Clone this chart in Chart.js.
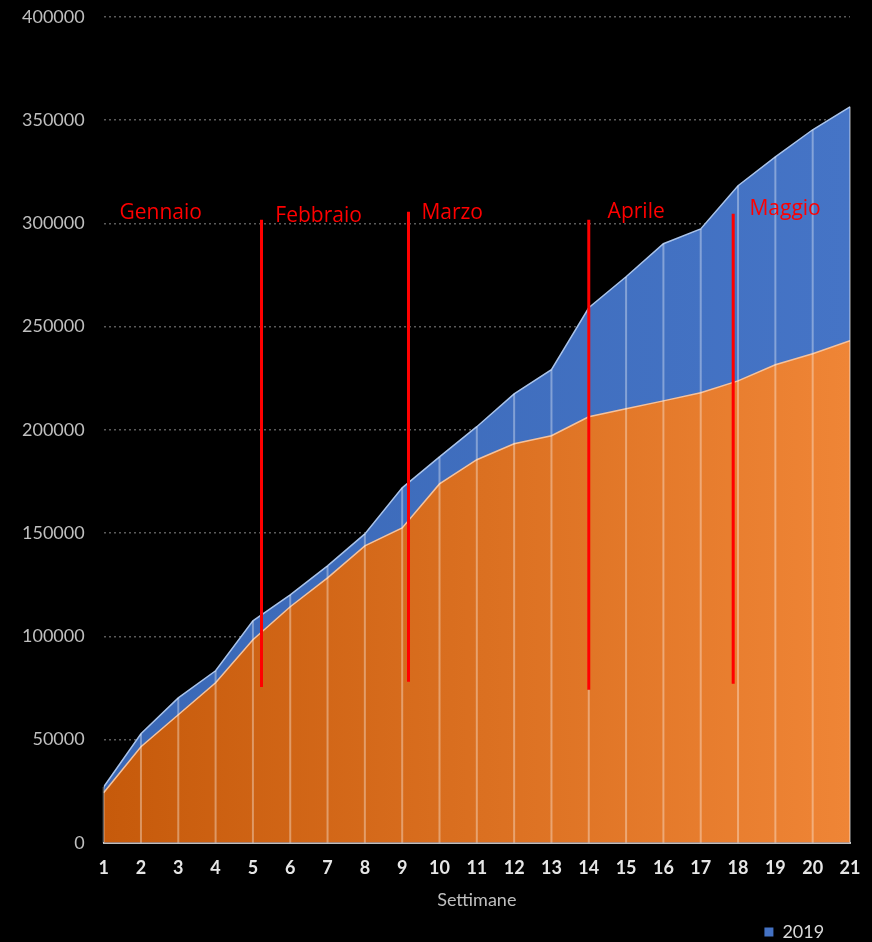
<!DOCTYPE html>
<html>
<head>
<meta charset="utf-8">
<script src="https://cdn.jsdelivr.net/npm/chart.js@4.4.0/dist/chart.umd.min.js"></script>
<style>
  html, body { margin: 0; padding: 0; background: #000; }
  #wrap { width: 872px; height: 942px; position: relative; }
</style>
</head>
<body>
<div id="wrap"><canvas id="chart"></canvas></div>
<script>
// weeks on the x axis
const weeks = [1, 2, 3, 4, 5, 6, 7, 8, 9, 10, 11, 12, 13, 14, 15, 16, 17, 18, 19, 20, 21];

// cumulative values
const values2019 = [27000, 52800, 70200, 83300, 107500, 120100, 134100, 149600, 171900, 186900, 201500,
  217400, 229100, 259100, 274100, 290100, 297300, 318200, 332200, 345300, 356400];
const valuesCurrent = [24200, 46500, 62000, 77500, 98300, 114300, 128300, 143800, 152500, 173800, 185500,
  193200, 197100, 206300, 210200, 214000, 217900, 223700, 231500, 236800, 243100];

const yMax = 400000;
const yStep = 50000;

// red month markers (week position, top and bottom value) and their labels
const monthNames = ['Gennaio', 'Febbraio', 'Marzo', 'Aprile', 'Maggio'];
const markerWeeks = [5.23, 9.17, 14.0, 17.87];
const markerTops = [301700, 305600, 301700, 304600];
const markerBottoms = [75500, 78000, 74100, 77000];
const labelWeeks = [2.53, 6.76, 10.34, 15.27, 19.26];
const labelValues = [305100, 303600, 305100, 305600, 307000];

function hGradient(chart, from, to) {
  const area = chart.chartArea;
  if (!area) return from;
  const g = chart.ctx.createLinearGradient(area.left, 0, area.right, 0);
  g.addColorStop(0, from);
  g.addColorStop(1, to);
  return g;
}

const markerSets = markerWeeks.map((w, i) => ({
  label: 'marker' + i,
  data: [{ x: w, y: markerTops[i] }, { x: w, y: markerBottoms[i] }],
  borderColor: '#ff0000',
  borderWidth: 3,
  pointRadius: 0,
  fill: false
}));

// light drop lines at each week, drawn right after the front area
const dropLines = {
  id: 'dropLines',
  afterDatasetDraw(chart, args) {
    if (chart.data.datasets[args.index].label !== 'current') return;
    const { ctx, scales: { x, y } } = chart;
    ctx.save();
    ctx.strokeStyle = 'rgba(255,255,255,0.35)';
    ctx.lineWidth = 2;
    weeks.forEach((w, i) => {
      const px = x.getPixelForValue(w);
      ctx.beginPath();
      ctx.moveTo(px, y.getPixelForValue(0));
      ctx.lineTo(px, y.getPixelForValue(Math.max(values2019[i], valuesCurrent[i])));
      ctx.stroke();
    });
    ctx.restore();
  }
};

const monthLabels = {
  id: 'monthLabels',
  afterDatasetsDraw(chart) {
    const { ctx, scales: { x, y } } = chart;
    ctx.save();
    ctx.fillStyle = '#ff0000';
    ctx.font = '21px "Open Sans"';
    ctx.textAlign = 'center';
    ctx.textBaseline = 'middle';
    monthNames.forEach((name, i) => {
      ctx.fillText(name, x.getPixelForValue(labelWeeks[i]), y.getPixelForValue(labelValues[i]));
    });
    ctx.restore();
  }
};

new Chart(document.getElementById('chart'), {
  type: 'line',
  data: {
    datasets: [
      ...markerSets,
      {
        label: 'current',
        data: weeks.map((w, i) => ({ x: w, y: valuesCurrent[i] })),
        backgroundColor: ctx => hGradient(ctx.chart, '#c65a0b', '#ef8536'),
        borderColor: '#f6c29b',
        borderWidth: 1.5,
        pointRadius: 0,
        tension: 0,
        fill: 'origin'
      },
      {
        label: '2019',
        data: weeks.map((w, i) => ({ x: w, y: values2019[i] })),
        backgroundColor: ctx => hGradient(ctx.chart, '#3a68b6', '#4574c6'),
        borderColor: '#a9c3ea',
        borderWidth: 1.5,
        pointRadius: 0,
        tension: 0,
        fill: 'origin'
      }
    ]
  },
  options: {
    responsive: true,
    maintainAspectRatio: false,
    animation: false,
    layout: { padding: { left: 16, right: 22, top: 0, bottom: -9 } },
    scales: {
      x: {
        type: 'linear',
        min: 1,
        max: 21,
        ticks: {
          stepSize: 1,
          color: '#e6e6e6',
          font: { family: 'Lato', size: 18, weight: 'bold' },
          padding: 3
        },
        grid: { display: false, drawTicks: true, tickLength: 12 },
        border: { color: '#bfbfbf', width: 2 },
        title: {
          display: true,
          text: 'Settimane',
          color: '#bfbfbf',
          font: { family: 'Lato', size: 18 },
          padding: { top: 7, bottom: 0 }
        }
      },
      y: {
        min: 0,
        max: yMax,
        ticks: {
          stepSize: yStep,
          color: '#bfbfbf',
          font: { family: 'Lato', size: 18 },
          padding: 6,
          callback: v => String(v)
        },
        grid: { color: '#5a5a5a', lineWidth: 1.5, drawTicks: true, tickLength: 13, tickColor: 'rgba(0,0,0,0)' },
        border: { display: false, dash: [2, 3] }
      }
    },
    plugins: {
      legend: {
        position: 'bottom',
        align: 'end',
        labels: {
          boxWidth: 9,
          boxHeight: 9,
          color: '#d9d9d9',
          font: { family: 'Lato', size: 18 },
          padding: 12,
          generateLabels: chart => [{
            text: '2019' + '\u00a0'.repeat(3),
            fillStyle: '#4472c4',
            strokeStyle: '#4472c4',
            lineWidth: 0,
            hidden: false,
            fontColor: '#d9d9d9',
            datasetIndex: chart.data.datasets.length - 1
          }]
        }
      },
      tooltip: { enabled: false }
    }
  },
  plugins: [dropLines, monthLabels]
});
</script>
</body>
</html>
